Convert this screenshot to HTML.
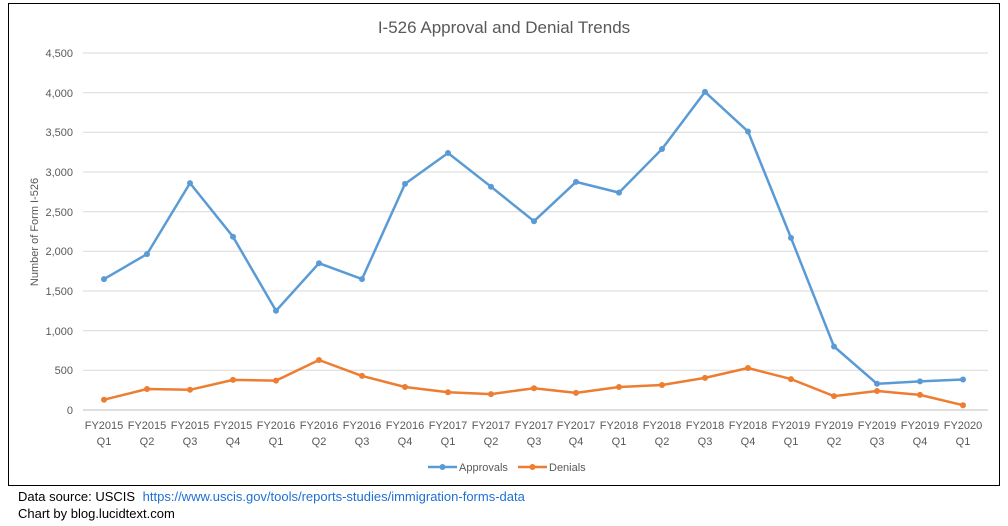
<!DOCTYPE html>
<html><head><style>body{margin:0;background:#fff}svg{display:block}</style></head><body>
<svg width="1008" height="526" xmlns="http://www.w3.org/2000/svg" font-family="Liberation Sans, sans-serif">
<rect x="8.5" y="3.5" width="991" height="482" fill="#fff" stroke="#000" stroke-width="1"/>
<text x="504" y="33" text-anchor="middle" font-size="17" fill="#595959">I-526 Approval and Denial Trends</text>
<g stroke="#d9d9d9" stroke-width="1">
<line x1="83" x2="988" y1="370.3" y2="370.3"/><line x1="83" x2="988" y1="330.7" y2="330.7"/>
<line x1="83" x2="988" y1="291" y2="291"/><line x1="83" x2="988" y1="251.3" y2="251.3"/>
<line x1="83" x2="988" y1="211.7" y2="211.7"/><line x1="83" x2="988" y1="172" y2="172"/>
<line x1="83" x2="988" y1="132.3" y2="132.3"/><line x1="83" x2="988" y1="92.7" y2="92.7"/>
<line x1="83" x2="988" y1="53" y2="53"/>
</g>
<line x1="83" x2="988" y1="410" y2="410" stroke="#bfbfbf"/>
<g font-size="11" fill="#595959" text-anchor="end">
<text x="73" y="414">0</text><text x="73" y="374">500</text><text x="73" y="335">1,000</text>
<text x="73" y="295">1,500</text><text x="73" y="255">2,000</text><text x="73" y="216">2,500</text>
<text x="73" y="176">3,000</text><text x="73" y="136">3,500</text><text x="73" y="97">4,000</text>
<text x="73" y="57">4,500</text>
</g>
<text transform="translate(38,232) rotate(-90)" text-anchor="middle" font-size="11" fill="#595959">Number  of Form I-526</text>
<g font-size="11" fill="#595959" text-anchor="middle">
<text x="104" y="429">FY2015</text><text x="104" y="445">Q1</text>
<text x="147" y="429">FY2015</text><text x="147" y="445">Q2</text>
<text x="190" y="429">FY2015</text><text x="190" y="445">Q3</text>
<text x="233" y="429">FY2015</text><text x="233" y="445">Q4</text>
<text x="276" y="429">FY2016</text><text x="276" y="445">Q1</text>
<text x="319" y="429">FY2016</text><text x="319" y="445">Q2</text>
<text x="362" y="429">FY2016</text><text x="362" y="445">Q3</text>
<text x="405" y="429">FY2016</text><text x="405" y="445">Q4</text>
<text x="448" y="429">FY2017</text><text x="448" y="445">Q1</text>
<text x="491" y="429">FY2017</text><text x="491" y="445">Q2</text>
<text x="534" y="429">FY2017</text><text x="534" y="445">Q3</text>
<text x="576" y="429">FY2017</text><text x="576" y="445">Q4</text>
<text x="619" y="429">FY2018</text><text x="619" y="445">Q1</text>
<text x="662" y="429">FY2018</text><text x="662" y="445">Q2</text>
<text x="705" y="429">FY2018</text><text x="705" y="445">Q3</text>
<text x="748" y="429">FY2018</text><text x="748" y="445">Q4</text>
<text x="791" y="429">FY2019</text><text x="791" y="445">Q1</text>
<text x="834" y="429">FY2019</text><text x="834" y="445">Q2</text>
<text x="877" y="429">FY2019</text><text x="877" y="445">Q3</text>
<text x="920" y="429">FY2019</text><text x="920" y="445">Q4</text>
<text x="963" y="429">FY2020</text><text x="963" y="445">Q1</text>
</g>
<g fill="none" stroke-width="2.5" stroke-linejoin="round">
<polyline stroke="#5b9bd5" points="104,279.1 147,254.1 190,183.1 233,236.7 276,310.8 319,263.2 362,279.1 405,183.9 448,153 491,186.7 534,221.2 576,181.9 619,192.6 662,149 705,91.9 748,131.5 791,237.9 834,346.5 877,383.8 920,381.4 963,379.5"/>
<polyline stroke="#ed7d31" points="104,399.7 147,389 190,389.8 233,379.9 276,380.6 319,360 362,375.9 405,387 448,392.2 491,394.1 534,388.2 576,392.9 619,387 662,385 705,377.9 748,368 791,379.1 834,396.1 877,391 920,394.9 963,405.2"/>
</g>
<g fill="#5b9bd5">
<circle cx="104" cy="279.1" r="3"/><circle cx="147" cy="254.1" r="3"/><circle cx="190" cy="183.1" r="3"/><circle cx="233" cy="236.7" r="3"/><circle cx="276" cy="310.8" r="3"/><circle cx="319" cy="263.2" r="3"/><circle cx="362" cy="279.1" r="3"/><circle cx="405" cy="183.9" r="3"/><circle cx="448" cy="153" r="3"/><circle cx="491" cy="186.7" r="3"/><circle cx="534" cy="221.2" r="3"/><circle cx="576" cy="181.9" r="3"/><circle cx="619" cy="192.6" r="3"/><circle cx="662" cy="149" r="3"/><circle cx="705" cy="91.9" r="3"/><circle cx="748" cy="131.5" r="3"/><circle cx="791" cy="237.9" r="3"/><circle cx="834" cy="346.5" r="3"/><circle cx="877" cy="383.8" r="3"/><circle cx="920" cy="381.4" r="3"/><circle cx="963" cy="379.5" r="3"/>
</g>
<g fill="#ed7d31">
<circle cx="104" cy="399.7" r="3"/><circle cx="147" cy="389" r="3"/><circle cx="190" cy="389.8" r="3"/><circle cx="233" cy="379.9" r="3"/><circle cx="276" cy="380.6" r="3"/><circle cx="319" cy="360" r="3"/><circle cx="362" cy="375.9" r="3"/><circle cx="405" cy="387" r="3"/><circle cx="448" cy="392.2" r="3"/><circle cx="491" cy="394.1" r="3"/><circle cx="534" cy="388.2" r="3"/><circle cx="576" cy="392.9" r="3"/><circle cx="619" cy="387" r="3"/><circle cx="662" cy="385" r="3"/><circle cx="705" cy="377.9" r="3"/><circle cx="748" cy="368" r="3"/><circle cx="791" cy="379.1" r="3"/><circle cx="834" cy="396.1" r="3"/><circle cx="877" cy="391" r="3"/><circle cx="920" cy="394.9" r="3"/><circle cx="963" cy="405.2" r="3"/>
</g>
<line x1="428" x2="457" y1="467" y2="467" stroke="#5b9bd5" stroke-width="2.5"/><circle cx="442.5" cy="467" r="3" fill="#5b9bd5"/>
<text x="459" y="471" font-size="11" fill="#595959">Approvals</text>
<line x1="518" x2="547" y1="467" y2="467" stroke="#ed7d31" stroke-width="2.5"/><circle cx="532.5" cy="467" r="3" fill="#ed7d31"/>
<text x="549" y="471" font-size="11" fill="#595959">Denials</text>
<text x="18" y="501" font-size="13" fill="#000">Data source: USCIS <tspan fill="#1f6fd6" dx="4">https://www.uscis.gov/tools/reports-studies/immigration-forms-data</tspan></text>
<text x="18" y="518" font-size="13" fill="#000">Chart by blog.lucidtext.com</text>
</svg>
</body></html>
